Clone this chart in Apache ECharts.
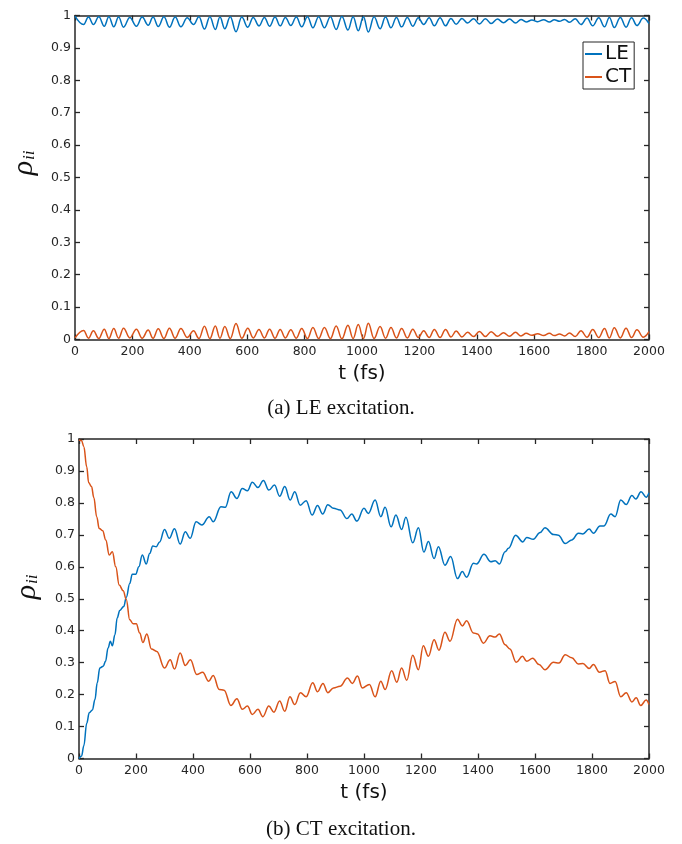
<!DOCTYPE html>
<html>
<head>
<meta charset="utf-8">
<script src="https://cdn.jsdelivr.net/npm/echarts@6/dist/echarts.min.js"></script>
<style>
html,body{margin:0;padding:0;background:#fff;}
#chart{width:682px;height:844px;}
</style>
</head>
<body>
<div id="chart"></div>
<script>
// ---------- data ----------
const xTicks = [0,200,400,600,800,1000,1200,1400,1600,1800,2000];
const yTicks = [0,0.1,0.2,0.3,0.4,0.5,0.6,0.7,0.8,0.9,1];
const seriesNames = ['LE','CT'];
const captions = ['(a) LE excitation.','(b) CT excitation.'];

// (a) LE excitation: [t (fs), rho]
const topLE = [[0,0.998],[30,0.972],[47,0.995],[64,0.972],[83,0.996],[102,0.967],[118,0.996],[135,0.965],[152,0.995],[169,0.964],[191,0.994],[214,0.967],[234,0.995],[255,0.970],[272,0.995],[290,0.966],[310,0.996],[329,0.964],[349,0.995],[369,0.965],[391,0.993],[413,0.972],[432,0.996],[451,0.958],[470,0.996],[489,0.957],[505,0.995],[522,0.959],[541,0.996],[561,0.950],[581,0.995],[602,0.964],[621,0.994],[641,0.968],[660,0.994],[678,0.967],[697,0.995],[715,0.968],[733,0.994],[752,0.969],[771,0.995],[790,0.965],[810,0.996],[829,0.962],[849,0.996],[869,0.962],[890,0.996],[910,0.957],[930,0.997],[951,0.955],[969,0.996],[987,0.953],[1005,0.996],[1022,0.949],[1042,0.996],[1063,0.959],[1082,0.995],[1101,0.962],[1120,0.994],[1138,0.965],[1158,0.994],[1177,0.967],[1196,0.993],[1215,0.972],[1234,0.993],[1252,0.968],[1272,0.993],[1291,0.968],[1310,0.991],[1328,0.973],[1348,0.991],[1368,0.977],[1389,0.990],[1409,0.974],[1430,0.990],[1450,0.975],[1472,0.989],[1493,0.978],[1514,0.989],[1535,0.977],[1554,0.988],[1572,0.980],[1592,0.986],[1612,0.981],[1633,0.987],[1653,0.980],[1670,0.987],[1688,0.982],[1706,0.988],[1723,0.979],[1743,0.990],[1763,0.972],[1784,0.992],[1804,0.968],[1825,0.993],[1845,0.965],[1862,0.994],[1879,0.963],[1900,0.994],[1920,0.964],[1939,0.993],[1958,0.969],[1980,0.992],[2000,0.975]];
const topCT = [[0,0.005],[30,0.028],[47,0.004],[64,0.027],[83,0.003],[102,0.032],[118,0.003],[135,0.034],[152,0.004],[169,0.035],[191,0.005],[214,0.032],[234,0.004],[255,0.029],[272,0.004],[290,0.033],[310,0.003],[329,0.035],[349,0.004],[369,0.034],[391,0.006],[413,0.027],[432,0.003],[451,0.041],[470,0.003],[489,0.042],[505,0.004],[522,0.040],[541,0.003],[561,0.049],[581,0.004],[602,0.035],[621,0.005],[641,0.031],[660,0.005],[678,0.032],[697,0.004],[715,0.031],[733,0.005],[752,0.030],[771,0.004],[790,0.034],[810,0.003],[829,0.037],[849,0.003],[869,0.037],[890,0.003],[910,0.042],[930,0.002],[951,0.044],[969,0.003],[987,0.046],[1005,0.003],[1022,0.050],[1042,0.003],[1063,0.040],[1082,0.004],[1101,0.037],[1120,0.005],[1138,0.034],[1158,0.005],[1177,0.032],[1196,0.006],[1215,0.027],[1234,0.006],[1252,0.031],[1272,0.006],[1291,0.031],[1310,0.008],[1328,0.026],[1348,0.008],[1368,0.022],[1389,0.009],[1409,0.025],[1430,0.009],[1450,0.024],[1472,0.010],[1493,0.021],[1514,0.010],[1535,0.022],[1554,0.011],[1572,0.019],[1592,0.013],[1612,0.018],[1633,0.012],[1653,0.019],[1670,0.012],[1688,0.017],[1706,0.011],[1723,0.020],[1743,0.009],[1763,0.027],[1784,0.007],[1804,0.031],[1825,0.006],[1845,0.034],[1862,0.005],[1879,0.036],[1900,0.005],[1920,0.035],[1939,0.006],[1958,0.030],[1980,0.007],[2000,0.024]];

// (b) CT excitation: [t (fs), rho]
const bottomLE = [[0,0],[9,0.008],[17,0.04],[27,0.11],[36,0.143],[47,0.152],[56,0.185],[64,0.237],[73,0.283],[85,0.289],[93,0.304],[102,0.346],[110,0.367],[117,0.353],[126,0.387],[134,0.44],[143,0.463],[157,0.476],[166,0.505],[178,0.548],[187,0.577],[199,0.577],[210,0.60],[222,0.637],[236,0.609],[248,0.642],[259,0.665],[271,0.663],[283,0.678],[300,0.717],[317,0.689],[335,0.719],[355,0.671],[373,0.710],[390,0.689],[411,0.741],[431,0.731],[457,0.757],[471,0.741],[498,0.788],[513,0.786],[534,0.835],[554,0.814],[573,0.845],[591,0.838],[608,0.865],[628,0.848],[647,0.870],[666,0.840],[686,0.856],[704,0.821],[722,0.851],[741,0.809],[757,0.835],[776,0.793],[797,0.807],[818,0.762],[837,0.792],[855,0.765],[873,0.794],[893,0.783],[916,0.778],[940,0.751],[957,0.765],[975,0.743],[1000,0.783],[1015,0.767],[1039,0.809],[1059,0.757],[1074,0.786],[1095,0.725],[1112,0.762],[1132,0.717],[1147,0.755],[1171,0.675],[1191,0.722],[1210,0.646],[1226,0.679],[1246,0.626],[1261,0.663],[1284,0.605],[1304,0.632],[1328,0.563],[1345,0.585],[1360,0.567],[1384,0.611],[1395,0.609],[1421,0.639],[1445,0.616],[1460,0.619],[1475,0.609],[1495,0.647],[1507,0.658],[1532,0.699],[1557,0.678],[1571,0.692],[1594,0.686],[1618,0.707],[1635,0.722],[1665,0.701],[1682,0.699],[1706,0.673],[1729,0.684],[1752,0.705],[1768,0.703],[1790,0.718],[1805,0.705],[1828,0.728],[1842,0.728],[1866,0.765],[1881,0.757],[1901,0.809],[1920,0.795],[1940,0.823],[1954,0.812],[1972,0.835],[1990,0.818],[2000,0.832]];
const bottomCT = [[0,0.997],[9,0.995],[17,0.976],[27,0.913],[34,0.863],[44,0.851],[52,0.817],[62,0.757],[71,0.720],[83,0.713],[94,0.684],[106,0.637],[117,0.647],[129,0.600],[141,0.543],[155,0.525],[166,0.498],[178,0.434],[190,0.422],[201,0.422],[213,0.393],[224,0.363],[238,0.390],[254,0.343],[273,0.335],[300,0.283],[320,0.309],[335,0.280],[355,0.330],[373,0.291],[391,0.309],[413,0.263],[434,0.270],[455,0.242],[471,0.260],[492,0.216],[509,0.214],[533,0.166],[554,0.187],[573,0.154],[591,0.164],[608,0.138],[628,0.154],[645,0.131],[666,0.164],[684,0.145],[704,0.180],[722,0.148],[740,0.193],[757,0.169],[777,0.206],[797,0.193],[820,0.237],[837,0.209],[856,0.235],[873,0.206],[893,0.221],[916,0.226],[942,0.252],[959,0.235],[977,0.258],[994,0.221],[1019,0.232],[1039,0.193],[1059,0.242],[1074,0.216],[1097,0.275],[1115,0.239],[1132,0.283],[1150,0.245],[1171,0.323],[1191,0.278],[1208,0.353],[1226,0.320],[1246,0.372],[1263,0.339],[1284,0.395],[1302,0.367],[1328,0.436],[1345,0.415],[1360,0.431],[1384,0.393],[1398,0.390],[1419,0.361],[1442,0.384],[1460,0.380],[1475,0.390],[1495,0.356],[1512,0.343],[1534,0.301],[1556,0.320],[1571,0.304],[1592,0.314],[1614,0.294],[1635,0.278],[1665,0.301],[1684,0.299],[1706,0.325],[1729,0.315],[1752,0.296],[1768,0.297],[1790,0.282],[1805,0.294],[1826,0.270],[1846,0.275],[1863,0.235],[1881,0.241],[1901,0.193],[1920,0.206],[1940,0.177],[1955,0.190],[1971,0.166],[1990,0.183],[2000,0.169]];

// ---------- chart ----------
const AX = '#262626';
const COLORS = {LE:'#0072BD', CT:'#D95319'};
const FONT = 'DejaVu Sans';

function xAx(grid, main){
  return {
    type:'value', gridIndex:grid, position: main ? 'bottom' : 'top',
    min:xTicks[0], max:xTicks[xTicks.length-1], interval:xTicks[1]-xTicks[0],
    axisLine:{show:true, onZero:false, lineStyle:{color:AX, width:1.5}},
    axisTick:{show:true, inside:true, length:5, lineStyle:{color:AX, width:1.3}},
    axisLabel:{show:main, color:AX, fontSize:12.5, fontFamily:FONT, margin:6,
      formatter: v => String(v)},
    splitLine:{show:false},
    name: main ? 't (fs)' : '', nameLocation:'middle', nameGap:24,
    nameTextStyle:{fontSize:20, color:'#111', fontFamily:FONT}
  };
}
function yAx(grid, main){
  return {
    type:'value', gridIndex:grid, position: main ? 'left' : 'right',
    min:yTicks[0], max:yTicks[yTicks.length-1], interval:yTicks[1]-yTicks[0],
    axisLine:{show:true, onZero:false, lineStyle:{color:AX, width:1.5}},
    axisTick:{show:true, inside:true, length:5, lineStyle:{color:AX, width:1.3}},
    axisLabel:{show:main, color:AX, fontSize:12.5, fontFamily:FONT, margin:4,
      formatter: v => String(Math.round(v*10)/10)},
    splitLine:{show:false}
  };
}
function line(name, data, gi){
  return {
    type:'line', name:name, data:data, xAxisIndex:gi*2, yAxisIndex:gi*2,
    showSymbol:false, smooth:0.4, smoothMonotone:'x',
    lineStyle:{color:COLORS[name], width:1.5}, itemStyle:{color:COLORS[name]},
    clip:true, animation:false
  };
}
function yName(x, y){
  return {
    type:'group', x:x, y:y, rotation:Math.PI/2,
    children:[
      {type:'text', x:0, y:0, style:{text:'ρ', font:'italic 30px "Liberation Serif"', fill:'#111', align:'center', verticalAlign:'middle'}},
      {type:'text', x:8, y:6, style:{text:'ii', font:'italic 17px "Liberation Serif"', fill:'#111', align:'left', verticalAlign:'middle'}}
    ]
  };
}

const chart = echarts.init(document.getElementById('chart'), null, {renderer:'canvas'});
chart.setOption({
  animation:false,
  backgroundColor:'#fff',
  grid:[
    {left:75, top:15.5, width:574, height:324},
    {left:79, top:439, width:570, height:319.5}
  ],
  xAxis:[xAx(0,true), xAx(0,false), xAx(1,true), xAx(1,false)],
  yAxis:[yAx(0,true), yAx(0,false), yAx(1,true), yAx(1,false)],
  legend:{
    data:seriesNames, orient:'vertical', left:583, top:42,
    icon:'rect', itemWidth:17, itemHeight:2, itemGap:3,
    padding:[2,3,2,2], borderColor:AX, borderWidth:1, backgroundColor:'#fff',
    textStyle:{fontSize:20, color:'#111', fontFamily:FONT, padding:[0,0,0,-2]}
  },
  series:[
    line('LE', topLE, 0), line('CT', topCT, 0),
    line('LE', bottomLE, 1), line('CT', bottomCT, 1)
  ],
  graphic:[
    yName(24, 168),
    yName(27, 592),
    {type:'text', x:341, y:408, style:{text:captions[0], font:'21px "Liberation Serif"', fill:'#111', align:'center', verticalAlign:'middle'}},
    {type:'text', x:341, y:829, style:{text:captions[1], font:'21px "Liberation Serif"', fill:'#111', align:'center', verticalAlign:'middle'}}
  ]
});
</script>
</body>
</html>
